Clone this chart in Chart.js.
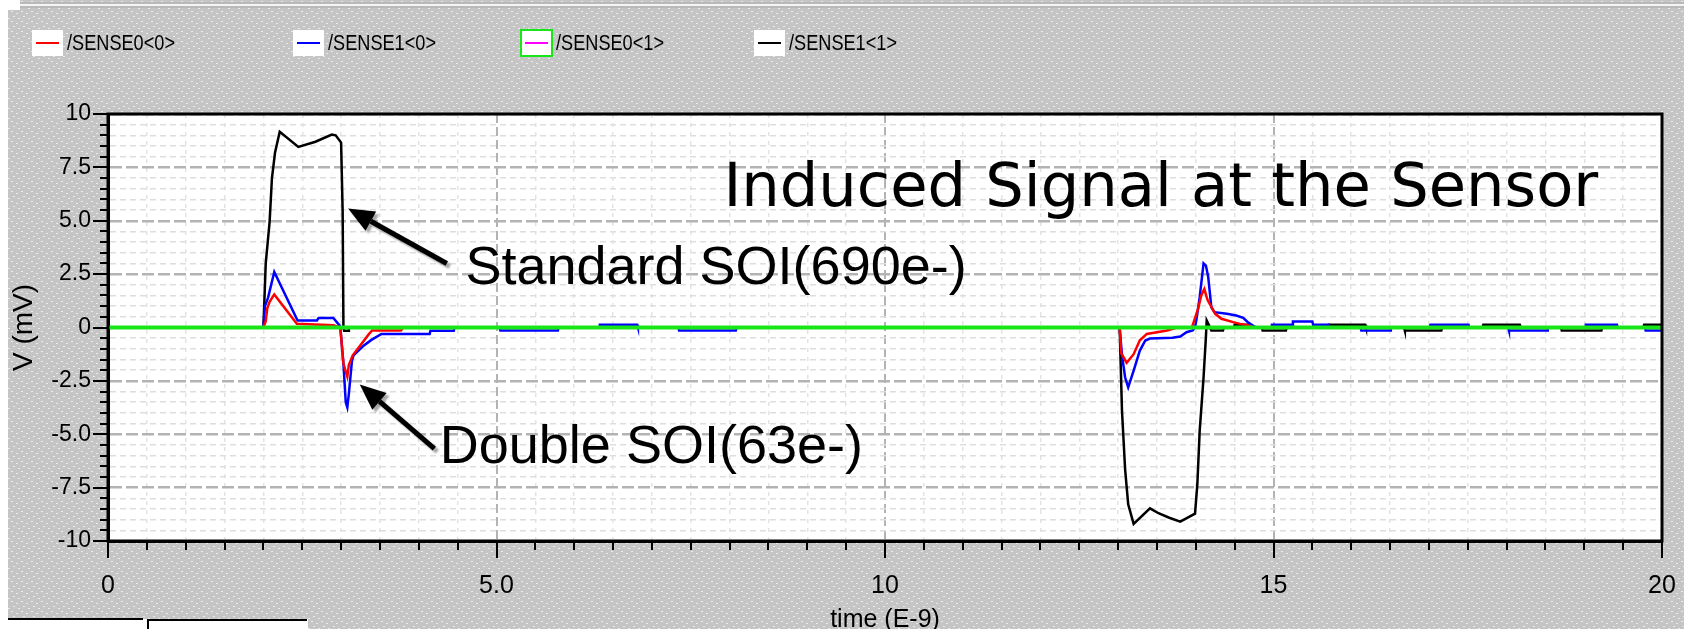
<!DOCTYPE html>
<html>
<head>
<meta charset="utf-8">
<script src="https://cdn.jsdelivr.net/npm/chart.js@4/dist/chart.umd.min.js"></script>
<style>
  html, body { margin: 0; padding: 0; background: #c8c8c8; overflow: hidden; }
  canvas { display: block; }
</style>
</head>
<body>
<canvas id="wave" width="1684" height="629"></canvas>
<script>
// Transient sensor outputs, time in ns, voltage in mV
const seriesNames  = ['/SENSE0<0>', '/SENSE1<0>', '/SENSE0<1>', '/SENSE1<1>'];
const seriesColors = ['#ff0000', '#0000ff', '#ff00ff', '#000000'];
const selectedSeries = 2;          // trace currently selected in the viewer
const selectedColor = '#19e619';

const sense0_0 = [
  [0, 0], [2.0, 0], [2.03, 0.3], [2.05, 0.9], [2.08, 1.2], [2.14, 1.55], [2.43, 0.17], [2.9, 0.1], [2.99, 0],
  [3.03, -1.7], [3.08, -2.3], [3.1, -1.75], [3.15, -1.3], [3.36, -0.3], [3.4, -0.14], [3.77, -0.14], [3.8, 0],
  [13.02, 0], [13.04, -1.2], [13.11, -1.65], [13.2, -1.25], [13.28, -0.6], [13.37, -0.3], [13.63, -0.14], [13.76, 0],
  [13.95, 0], [14.03, 0.88], [14.07, 1.5], [14.11, 1.8], [14.15, 1.3], [14.25, 0.64], [14.33, 0.41], [14.48, 0.25],
  [14.57, 0.17], [14.68, 0.1], [14.74, 0], [20, 0]
];
const sense1_0 = [
  [0, 0], [2.0, 0], [2.02, 1.0], [2.06, 1.4], [2.14, 2.6], [2.44, 0.33], [2.69, 0.33], [2.71, 0.45], [2.9, 0.45],
  [2.98, 0.1], [2.99, 0], [3.03, -1.7], [3.06, -3.5], [3.08, -3.74], [3.1, -3.1], [3.14, -1.55], [3.16, -1.31],
  [3.29, -0.85], [3.39, -0.58], [3.52, -0.3], [4.14, -0.3], [4.15, -0.15], [4.45, -0.15], [4.46, 0], [5.04, 0],
  [5.05, -0.14], [5.79, -0.14], [5.8, 0], [6.32, 0], [6.33, 0.13], [6.81, 0.13], [6.82, 0], [7.34, 0], [7.35, -0.14],
  [8.08, -0.14], [8.09, 0], [13.02, 0], [13.05, -1.3], [13.09, -2.33], [13.13, -2.8], [13.2, -2.02], [13.28, -1.08],
  [13.35, -0.61], [13.41, -0.52], [13.7, -0.48], [13.8, -0.42], [13.88, -0.22], [13.96, -0.14], [13.99, 0],
  [14.01, 0.41], [14.05, 1.42], [14.1, 3.0], [14.13, 2.9], [14.16, 2.36], [14.2, 0.95], [14.24, 0.72], [14.4, 0.64],
  [14.52, 0.56], [14.61, 0.45], [14.67, 0.25], [14.73, 0.1], [14.78, 0], [14.97, 0], [14.98, 0.13], [15.24, 0.13],
  [15.25, 0.28], [15.5, 0.28], [15.51, 0.13], [15.71, 0.13], [15.72, 0], [16.12, 0], [16.13, -0.14], [16.5, -0.14],
  [16.51, 0], [17.01, 0], [17.02, 0.13], [17.51, 0.13], [17.52, 0], [18.02, 0], [18.03, -0.14], [18.52, -0.14],
  [18.53, 0], [19.01, 0], [19.02, 0.13], [19.42, 0.13], [19.43, 0], [19.78, 0], [19.79, -0.14], [20, -0.14]
];
const sense0_1 = [
  [0, 0], [20, 0]
];
const sense1_1 = [
  [0, 0], [2.0, 0], [2.03, 3.0], [2.08, 4.95], [2.11, 7.0], [2.15, 8.2], [2.21, 9.17], [2.45, 8.46], [2.67, 8.7],
  [2.88, 9.04], [2.93, 9.0], [3.0, 8.66], [3.02, 5.41], [3.03, 0], [3.04, -0.15], [3.09, -0.15], [3.1, 0],
  [13.02, 0], [13.03, -1.3], [13.05, -3.9], [13.09, -6.63], [13.13, -8.28], [13.2, -9.2], [13.41, -8.47],
  [13.52, -8.7], [13.65, -8.9], [13.8, -9.09], [13.99, -8.72], [14.02, -7.34], [14.05, -4.84], [14.1, -2.33],
  [14.13, -0.45], [14.14, 0.33], [14.17, 0.1], [14.2, -0.14], [14.35, -0.14], [14.36, 0], [14.49, 0], [14.5, 0.13],
  [14.68, 0.13], [14.69, 0], [14.85, 0], [14.86, -0.14], [15.16, -0.14], [15.17, 0], [15.7, 0], [15.71, 0.13],
  [16.18, 0.13], [16.19, 0], [16.68, 0], [16.69, -0.14], [17.16, -0.14], [17.17, 0], [17.69, 0], [17.7, 0.13],
  [18.17, 0.13], [18.18, 0], [18.7, 0], [18.71, -0.14], [19.22, -0.14], [19.23, 0], [19.76, 0], [19.77, 0.13], [20, 0.13]
];

// Axis tick labels
const xTickValues = [0, 5, 10, 15, 20];
const xTickLabels = ['0', '5.0', '10', '15', '20'];
const yTickValues = [10, 7.5, 5, 2.5, 0, -2.5, -5, -7.5, -10];
const yTickLabels = ['10', '7.5', '5.0', '2.5', '0', '-2.5', '-5.0', '-7.5', '-10'];
const xTitle = 'time (E-9)';
const yTitle = 'V (mV)';

// Callouts placed in data units
const callouts = [
  { text: 'Induced Signal at the Sensor', x: 7.92, y: 5.67, xEnd: 19.18, font: '60px "DejaVu Sans"' },
  { text: 'Standard SOI(690e-)', x: 4.6, y: 2.06, font: '54px "Liberation Sans"' },
  { text: 'Double SOI(63e-)', x: 4.27, y: -6.37, font: '54px "Liberation Sans"' }
];
const arrows = [
  { from: [4.36, 3.0], to: [3.09, 5.57] },
  { from: [4.2, -5.67], to: [3.24, -2.67] }
];

const seriesData = [sense0_0, sense1_0, sense0_1, sense1_1];
const drawOrder = [1, 2, 0, 3];   // lower draws on top

function labelFor(values, labels, v) {
  const i = values.findIndex(t => Math.abs(t - v) < 1e-6);
  return i >= 0 ? labels[i] : '';
}
const isMult = (v, step) => Math.abs(v / step - Math.round(v / step)) < 1e-6;

// draw text squeezed horizontally to a fixed width
function fillFitted(ctx, text, x, y, width) {
  const w = ctx.measureText(text).width;
  ctx.save();
  ctx.translate(x, y);
  ctx.scale(width / w, 1);
  ctx.fillText(text, 0, 0);
  ctx.restore();
}

// dotted gray backdrop
function makePattern(ctx) {
  const tile = document.createElement('canvas');
  tile.width = 10; tile.height = 10;
  const t = tile.getContext('2d');
  t.fillStyle = '#c5c5c5';
  t.fillRect(0, 0, 10, 10);
  t.fillStyle = '#ececec';
  [[1, 1], [6, 3], [3, 6], [8, 8]].forEach(([a, b]) => t.fillRect(a, b, 2, 1));
  return ctx.createPattern(tile, 'repeat');
}

const backdrop = {
  id: 'backdrop',
  beforeDraw(chart) {
    const { ctx, chartArea: a, width, height } = chart;
    ctx.save();
    ctx.fillStyle = makePattern(ctx);
    ctx.fillRect(0, 0, width, height);
    // window edges
    ctx.fillStyle = '#ffffff';
    ctx.fillRect(0, 0, 20, 10);
    ctx.fillRect(0, 0, 8, height);
    ctx.fillStyle = '#b9b9b9';
    ctx.fillRect(20, 2, width - 20, 6);
    ctx.fillStyle = '#f4f4f4';
    ctx.fillRect(20, 4, width - 20, 2);
    // tab strip at the bottom left
    ctx.fillStyle = '#ffffff';
    ctx.fillRect(8, 619, 300, height - 619);
    ctx.strokeStyle = '#000';
    ctx.lineWidth = 2;
    ctx.beginPath();
    ctx.moveTo(8, 619); ctx.lineTo(143, 619);
    ctx.moveTo(148, 629); ctx.lineTo(148, 620); ctx.lineTo(307, 620);
    ctx.stroke();
    // plot area
    ctx.fillStyle = '#ffffff';
    ctx.fillRect(a.left, a.top, a.right - a.left, a.bottom - a.top);
    ctx.restore();
  }
};

const frameAndNotes = {
  id: 'frameAndNotes',
  afterDraw(chart) {
    const { ctx, chartArea: a } = chart;
    const xs = chart.scales.x, ys = chart.scales.y;
    ctx.save();
    // frame
    ctx.strokeStyle = '#000';
    ctx.lineWidth = 3;
    ctx.strokeRect(a.left, a.top, a.right - a.left, a.bottom - a.top);
    // outward tick marks from the scales' own ticks
    ctx.lineWidth = 2;
    ctx.beginPath();
    xs.ticks.forEach(t => {
      const px = Math.round(xs.getPixelForValue(t.value));
      const len = isMult(t.value, 5) ? 17 : 9;
      ctx.moveTo(px, a.bottom); ctx.lineTo(px, a.bottom + len);
    });
    ys.ticks.forEach(t => {
      const py = Math.round(ys.getPixelForValue(t.value));
      const len = isMult(t.value, 2.5) ? 15 : 8;
      ctx.moveTo(a.left, py); ctx.lineTo(a.left - len, py);
    });
    ctx.stroke();

    // axis titles
    ctx.fillStyle = '#000';
    ctx.textAlign = 'center';
    ctx.textBaseline = 'middle';
    ctx.font = '25px "Liberation Sans"';
    ctx.fillText(xTitle, (a.left + a.right) / 2, 620);
    ctx.save();
    ctx.font = '28px "Liberation Sans"';
    ctx.translate(24, (a.top + a.bottom) / 2);
    ctx.rotate(-Math.PI / 2);
    ctx.fillText(yTitle, 0, 0);
    ctx.restore();

    // legend
    ctx.font = '22px "Liberation Sans"';
    ctx.textAlign = 'left';
    const legendTextX = [67, 328, 556, 789];
    seriesNames.forEach((name, i) => {
      const bw = 31, bh = 26, bx = legendTextX[i] - bw - 4, by = 30;
      ctx.fillStyle = '#ffffff';
      ctx.fillRect(bx, by, bw, bh);
      if (i === selectedSeries) {
        ctx.strokeStyle = selectedColor;
        ctx.lineWidth = 2;
        ctx.strokeRect(bx, by, bw, bh);
      }
      ctx.strokeStyle = seriesColors[i];
      ctx.lineWidth = 2;
      ctx.beginPath();
      ctx.moveTo(bx + 4, by + bh / 2); ctx.lineTo(bx + bw - 4, by + bh / 2);
      ctx.stroke();
      ctx.fillStyle = '#000';
      fillFitted(ctx, name, legendTextX[i], by + bh / 2 + 1, 108);
    });

    // callouts
    ctx.textBaseline = 'alphabetic';
    callouts.forEach(c => {
      ctx.font = c.font;
      const x0 = xs.getPixelForValue(c.x), y0 = ys.getPixelForValue(c.y);
      if (c.xEnd !== undefined) {
        fillFitted(ctx, c.text, x0, y0, xs.getPixelForValue(c.xEnd) - x0);
      } else {
        ctx.fillText(c.text, x0, y0);
      }
    });

    // arrows with a soft drop shadow
    ctx.shadowColor = 'rgba(0,0,0,0.35)';
    ctx.shadowOffsetX = 3;
    ctx.shadowOffsetY = 3;
    ctx.shadowBlur = 2;
    ctx.strokeStyle = '#000';
    ctx.fillStyle = '#000';
    arrows.forEach(ar => {
      const x1 = xs.getPixelForValue(ar.from[0]), y1 = ys.getPixelForValue(ar.from[1]);
      const x2 = xs.getPixelForValue(ar.to[0]), y2 = ys.getPixelForValue(ar.to[1]);
      const ang = Math.atan2(y2 - y1, x2 - x1);
      const L = 26, W = 11;
      const bx = x2 - L * Math.cos(ang), by = y2 - L * Math.sin(ang);
      ctx.lineWidth = 5;
      ctx.beginPath();
      ctx.moveTo(x1, y1); ctx.lineTo(bx, by);
      ctx.stroke();
      ctx.beginPath();
      ctx.moveTo(x2, y2);
      ctx.lineTo(bx - W * Math.sin(ang), by + W * Math.cos(ang));
      ctx.lineTo(bx + W * Math.sin(ang), by - W * Math.cos(ang));
      ctx.closePath();
      ctx.fill();
    });
    ctx.restore();
  }
};

new Chart(document.getElementById('wave'), {
  type: 'line',
  data: {
    datasets: seriesNames.map((name, i) => ({
      label: name,
      data: seriesData[i],
      borderColor: i === selectedSeries ? selectedColor : seriesColors[i],
      borderWidth: i === selectedSeries ? 4 : 2.5,
      pointRadius: 0,
      tension: 0,
      fill: false,
      order: drawOrder[i]
    }))
  },
  options: {
    responsive: false,
    animation: false,
    events: [],
    layout: { padding: { top: 114, right: 22, bottom: 0, left: 0 } },
    plugins: { legend: { display: false }, tooltip: { enabled: false } },
    scales: {
      x: {
        type: 'linear', min: 0, max: 20,
        afterFit: s => { s.height = 88; s.paddingLeft = 0; s.paddingRight = 0; },
        ticks: {
          stepSize: 0.5, maxTicksLimit: 100, autoSkip: false, maxRotation: 0,
          padding: 30, color: '#000', font: { family: '"Liberation Sans"', size: 25 },
          callback: v => labelFor(xTickValues, xTickLabels, v)
        },
        grid: {
          drawTicks: false,
          color: c => (c.tick && isMult(c.tick.value, 5)) ? '#b3b3b3' : '#e3e3e3',
          lineWidth: c => (c.tick && isMult(c.tick.value, 5)) ? 2 : 1.5
        },
        border: {
          display: true, color: '#000', width: 3,
          dash: c => (c.tick && isMult(c.tick.value, 5)) ? [9, 4] : [4, 5]
        }
      },
      y: {
        type: 'linear', min: -10, max: 10,
        afterFit: s => { s.width = 108; },
        ticks: {
          stepSize: 0.5, maxTicksLimit: 100, autoSkip: false,
          padding: 17, color: '#000', font: { family: '"Liberation Sans"', size: 23 },
          callback: v => labelFor(yTickValues, yTickLabels, v)
        },
        grid: {
          drawTicks: false,
          color: c => (c.tick && isMult(c.tick.value, 2.5)) ? '#b3b3b3' : '#dedede',
          lineWidth: c => (c.tick && isMult(c.tick.value, 2.5)) ? 2.5 : 1.5
        },
        border: {
          display: true, color: '#000', width: 3,
          dash: c => (c.tick && isMult(c.tick.value, 2.5)) ? [12, 4] : [6, 4]
        }
      }
    }
  },
  plugins: [backdrop, frameAndNotes]
});
</script>
</body>
</html>
